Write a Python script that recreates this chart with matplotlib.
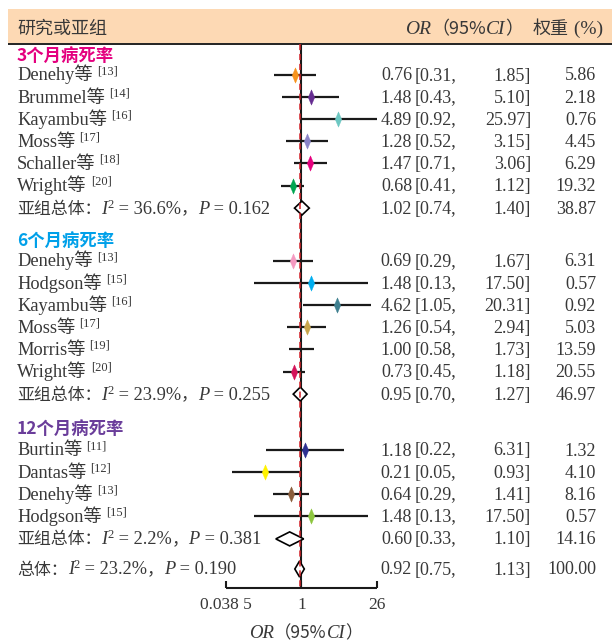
import matplotlib
matplotlib.use("Agg")
import matplotlib.pyplot as plt
from matplotlib.transforms import blended_transform_factory
from matplotlib.patches import Polygon, Rectangle

# ---------------- data ----------------
group_titles = ["3个月病死率", "6个月病死率", "12个月病死率"]
group_title_colors = ["#e4007f", "#00a0e9", "#6a3d9a"]

g3_names = ["Denehy", "Brummel", "Kayambu", "Moss", "Schaller", "Wright"]
g3_refs = ["13", "14", "16", "17", "18", "20"]
g3_or = [0.76, 1.48, 4.89, 1.28, 1.47, 0.68]
g3_lo = [0.31, 0.43, 0.92, 0.52, 0.71, 0.41]
g3_hi = [1.85, 5.10, 25.97, 3.15, 3.06, 1.12]
g3_w = [5.86, 2.18, 0.76, 4.45, 6.29, 19.32]
g3_colors = ["#f7941d", "#662d91", "#6cc7c2", "#8a84c8", "#e6007e", "#00a651"]
g3_sub = [1.02, 0.74, 1.40, 38.87]
g3_i2, g3_p = "36.6", "0.162"

g6_names = ["Denehy", "Hodgson", "Kayambu", "Moss", "Morris", "Wright"]
g6_refs = ["13", "15", "16", "17", "19", "20"]
g6_or = [0.69, 1.48, 4.62, 1.26, 1.00, 0.73]
g6_lo = [0.29, 0.13, 1.05, 0.54, 0.58, 0.45]
g6_hi = [1.67, 17.50, 20.31, 2.94, 1.73, 1.18]
g6_w = [6.31, 0.57, 0.92, 5.03, 13.59, 20.55]
g6_colors = ["#f49ac1", "#00aeef", "#3f8090", "#c8a54a", "none", "#d4145a"]
g6_sub = [0.95, 0.70, 1.27, 46.97]
g6_i2, g6_p = "23.9", "0.255"

g12_names = ["Burtin", "Dantas", "Denehy", "Hodgson"]
g12_refs = ["11", "12", "13", "15"]
g12_or = [1.18, 0.21, 0.64, 1.48]
g12_lo = [0.22, 0.05, 0.29, 0.13]
g12_hi = [6.31, 0.93, 1.41, 17.50]
g12_w = [1.32, 4.10, 8.16, 0.57]
g12_colors = ["#2e3192", "#fff200", "#8b5e3c", "#8dc63f"]
g12_sub = [0.60, 0.33, 1.10, 14.16]
g12_i2, g12_p = "2.2", "0.381"

overall = [0.92, 0.75, 1.13, 100.00]
overall_i2, overall_p = "23.2", "0.190"

x_ticks = [0.0385, 1, 26]
x_ticklabels = ["0.038 5", "1", "26"]

# ---------------- figure ----------------
W, H = 612, 641
fig = plt.figure(figsize=(W / 100, H / 100), dpi=100)
x0_px, x1_px = 226, 377
ax = fig.add_axes([x0_px / W, 0, (x1_px - x0_px) / W, 1])
ax.set_xscale("log")
ax.set_xlim(x_ticks[0], x_ticks[-1])
ax.set_ylim(H, 0)
ax.axis("off")

tx = blended_transform_factory(fig.transFigure, ax.transData)
renderer = fig.canvas.get_renderer()

SERIF = ["Liberation Serif", "Noto Sans CJK SC"]
CJK = ["Noto Sans CJK SC", "Liberation Serif"]
TXT = "#383838"
FS = 13.2
NFS = 13


def put(x, y, s, **kw):
    kw.setdefault("color", TXT)
    kw.setdefault("family", SERIF)
    kw.setdefault("fontsize", FS)
    kw.setdefault("va", "baseline")
    return ax.text(x / W, y, s, transform=tx, clip_on=False, **kw)


def runs(x, y, pieces):
    """Draw consecutive text pieces, each with its own style."""
    for s, kw in pieces:
        kw = dict(kw)
        dy = kw.pop("dy", 0)
        t = put(x, y + dy, s, **kw)
        x += t.get_window_extent(renderer).width
    return x


BASE = 5.5  # baseline offset below row centre


def stats_text(x, yc, prefix, i2, p):
    b = yc + BASE
    runs(x, b, [
        (prefix, dict(family=CJK, fontsize=FS - 1)),
        ("I", dict(style="italic")),
        ("2", dict(fontsize=9, dy=-6)),
        (" = " + i2 + "%", dict()),
        ("，", dict(family=CJK, fontsize=FS - 1)),
        ("P", dict(style="italic")),
        (" = " + p, dict()),
    ])


def numbers(yc, est, lo, hi, w):
    b = yc + BASE
    put(412, b, f"{est:.2f}", ha="right", fontsize=NFS)
    put(415, b, f"[{lo:.2f},", ha="left", fontsize=NFS)
    put(531, b, f"{hi:.2f}]", ha="right", fontsize=NFS)
    put(596, b, f"{w:.2f}", ha="right", fontsize=NFS)


def study_label(yc, name, ref):
    b = yc + BASE
    x = runs(17, b, [(name + "等", dict())])
    put(x + 4, b - 6, "[" + ref + "]", fontsize=9)


def diamond(yc, est, lo, hi, h):
    poly = Polygon([(lo, yc), (est, yc - h), (hi, yc), (est, yc + h)],
                   closed=True, facecolor="white", edgecolor="black",
                   lw=1.2, zorder=5, clip_on=False)
    ax.add_patch(poly)


marker_shape = [(0, 1), (0.42, 0), (0, -1), (-0.42, 0), (0, 1)]

# header band
fig.patches.append(Rectangle((8 / W, 1 - 43 / H), (W - 8) / W, 34 / H,
                             transform=fig.transFigure, facecolor="#fdd9b4",
                             edgecolor="none", zorder=-10))
hb = 34
put(17, hb, "研究或亚组", family=CJK, fontsize=13)
runs(405, hb, [("OR", dict(style="italic", fontsize=14)),
               ("（95%", dict(family=CJK, fontsize=13)),
               ("CI", dict(style="italic", fontsize=14)),
               ("）", dict(family=CJK, fontsize=13))])
runs(533, hb, [("权重", dict(family=CJK, fontsize=13)),
               (" (%)", dict(fontsize=14))])
ax.hlines(43.5, 0.0385 * (0.0385 / 26) ** ((x0_px - 8) / (x1_px - x0_px)),
          26 * (26 / 0.0385) ** ((W - x1_px) / (x1_px - x0_px)),
          color="#222222", lw=1.4, clip_on=False, zorder=3)

groups = [
    (g3_names, g3_refs, g3_or, g3_lo, g3_hi, g3_w, g3_colors, g3_sub, g3_i2, g3_p),
    (g6_names, g6_refs, g6_or, g6_lo, g6_hi, g6_w, g6_colors, g6_sub, g6_i2, g6_p),
    (g12_names, g12_refs, g12_or, g12_lo, g12_hi, g12_w, g12_colors, g12_sub, g12_i2, g12_p),
]
title_y = [55, 240, 428]
first_row_y = [75, 261, 450]
row_step = 22.1

for gi, (names, refs, ors, los, his, ws, cols, sub, i2, p) in enumerate(groups):
    put(17, title_y[gi] + 6, group_titles[gi], family=CJK, fontsize=12.5,
        weight="bold", color=group_title_colors[gi])
    ys = [first_row_y[gi] + k * row_step for k in range(len(names))]
    for yc, nm, rf, e, lo, hi, w, c in zip(ys, names, refs, ors, los, his, ws, cols):
        ax.hlines(yc, lo, hi, color="#1a1a1a", lw=1.6, zorder=3, clip_on=False)
        if c != "none":
            ax.plot([e], [yc], marker=marker_shape, ms=11, color=c, mec=c,
                    mew=0.3, zorder=4, clip_on=False)
        study_label(yc, nm, rf)
        numbers(yc, e, lo, hi, w)
    ysub = ys[-1] + row_step + 0.5
    diamond(ysub, sub[0], sub[1], sub[2], 7)
    stats_text(17, ysub, "亚组总体：", i2, p)
    numbers(ysub, *sub)

# overall
yo = 569
diamond(yo, overall[0], overall[1], overall[2], 8)
stats_text(17, yo, "总体：", overall_i2, overall_p)
numbers(yo, *overall)

# reference lines
ax.vlines(1, 44, 588, color="#1a1a1a", lw=1.5, zorder=2, clip_on=False)
ax.vlines(overall[0], 44, 588, color="#d42027", lw=1.1, linestyles=(0, (4, 2.5)),
          zorder=6, clip_on=False)

# x axis
ya = 587.5
ax.hlines(ya, x_ticks[0], x_ticks[-1], color="#1a1a1a", lw=1.5, clip_on=False)
for xt, lab in zip(x_ticks, x_ticklabels):
    ax.vlines(xt, ya - 7, ya, color="#1a1a1a", lw=1.5, clip_on=False)
    ax.text(xt, 609, lab, ha="center", va="baseline", family=SERIF, fontsize=12.5,
            color=TXT, clip_on=False)

# axis title
lbl_pieces = [("OR", dict(style="italic", fontsize=13.5)),
              ("（95%", dict(family=CJK, fontsize=12.5)),
              ("CI", dict(style="italic", fontsize=13.5)),
              ("）", dict(family=CJK, fontsize=12.5))]
runs(249, 638, lbl_pieces)

fig.savefig("out.png", dpi=100)
